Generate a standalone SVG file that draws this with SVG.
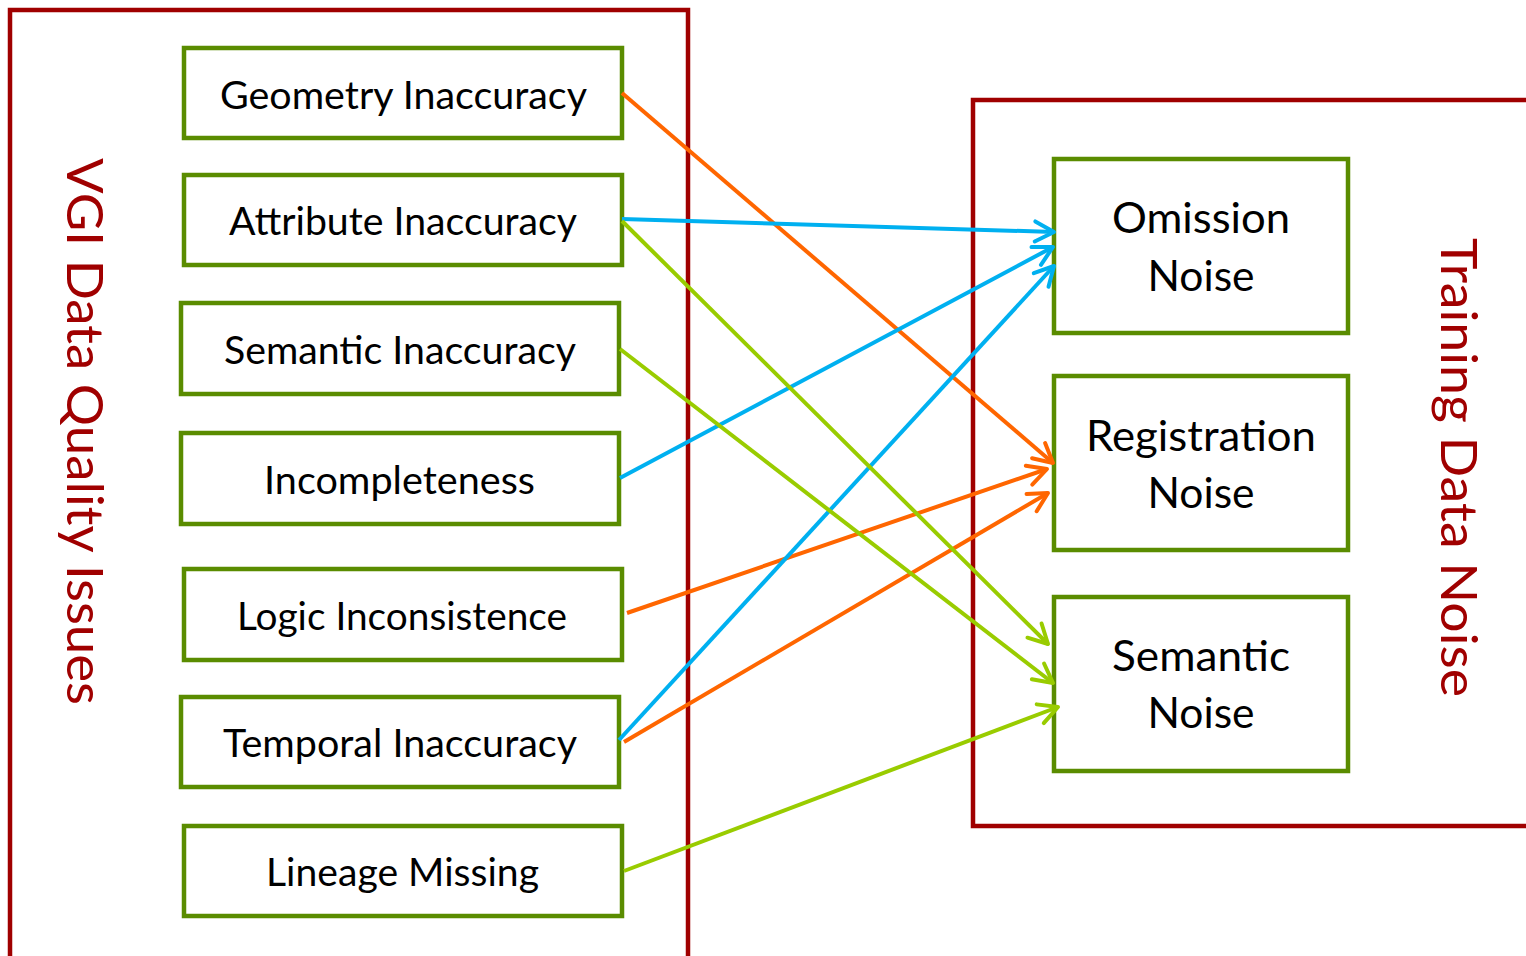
<svg xmlns="http://www.w3.org/2000/svg" width="1526" height="956" viewBox="0 0 1526 956">
  <style>
    .frame { fill: none; stroke: #A00000; stroke-width: 4.5; }
    .node rect { fill: #FFFFFF; stroke: #5A8C00; stroke-width: 4.5; }
    .lbl { font-family: Lato, "Open Sans", "Liberation Sans", sans-serif; font-size: 39px; fill: #000000; text-anchor: middle; }
    .lbl2 { font-family: Lato, "Open Sans", "Liberation Sans", sans-serif; font-size: 42px; fill: #000000; text-anchor: middle; }
    .title { font-family: Lato, "Open Sans", "Liberation Sans", sans-serif; font-size: 50px; fill: #A00000; text-anchor: middle; }
    .c { fill: none; stroke-width: 4; }
    .or { stroke: #FF6600; }
    .bl { stroke: #00B0F0; }
    .gr { stroke: #99CC00; }
    .ah { fill: none; stroke-width: 4; stroke-linecap: round; stroke-linejoin: round; }
  </style>
  <defs>
    <marker id="mOr" markerUnits="userSpaceOnUse" viewBox="-25 -15 30 30" markerWidth="30" markerHeight="30" refX="0" refY="0" orient="auto" overflow="visible">
      <path class="ah" d="M -19 -10 L 0 0 L -19 10" stroke="#FF6600"/>
    </marker>
    <marker id="mBl" markerUnits="userSpaceOnUse" viewBox="-25 -15 30 30" markerWidth="30" markerHeight="30" refX="0" refY="0" orient="auto" overflow="visible">
      <path class="ah" d="M -19 -10 L 0 0 L -19 10" stroke="#00B0F0"/>
    </marker>
    <marker id="mGr" markerUnits="userSpaceOnUse" viewBox="-25 -15 30 30" markerWidth="30" markerHeight="30" refX="0" refY="0" orient="auto" overflow="visible">
      <path class="ah" d="M -19 -10 L 0 0 L -19 10" stroke="#99CC00"/>
    </marker>
  </defs>
  <rect width="1526" height="956" fill="#FFFFFF"/>

  <g id="vgi-frame">
    <rect class="frame" x="10" y="10" width="678" height="970"/>
    <text class="title" transform="translate(67,431.5) rotate(90)" textLength="547" lengthAdjust="spacingAndGlyphs">VGI Data Quality Issues</text>
  </g>
  <g id="noise-frame">
    <rect class="frame" x="973" y="100" width="580" height="726"/>
    <text class="title" transform="translate(1441,467.5) rotate(90)" textLength="459" lengthAdjust="spacingAndGlyphs">Training Data Noise</text>
  </g>

  <g id="geometry-inaccuracy" class="node">
    <rect x="184" y="48" width="438" height="90"/>
    <text class="lbl" x="403.5" y="109" textLength="367" lengthAdjust="spacingAndGlyphs">Geometry Inaccuracy</text>
  </g>
  <g id="attribute-inaccuracy" class="node">
    <rect x="184" y="175" width="438" height="90"/>
    <text class="lbl" x="403" y="235" textLength="348" lengthAdjust="spacingAndGlyphs">Attribute Inaccuracy</text>
  </g>
  <g id="semantic-inaccuracy" class="node">
    <rect x="181" y="303" width="438" height="91"/>
    <text class="lbl" x="400" y="364" textLength="352" lengthAdjust="spacingAndGlyphs">Semantic Inaccuracy</text>
  </g>
  <g id="incompleteness" class="node">
    <rect x="181" y="433" width="438" height="91"/>
    <text class="lbl" x="399.5" y="494" textLength="271" lengthAdjust="spacingAndGlyphs">Incompleteness</text>
  </g>
  <g id="logic-inconsistence" class="node">
    <rect x="184" y="569" width="438" height="91"/>
    <text class="lbl" x="402" y="630" textLength="330" lengthAdjust="spacingAndGlyphs">Logic Inconsistence</text>
  </g>
  <g id="temporal-inaccuracy" class="node">
    <rect x="181" y="697" width="438" height="90"/>
    <text class="lbl" x="400" y="757" textLength="354" lengthAdjust="spacingAndGlyphs">Temporal Inaccuracy</text>
  </g>
  <g id="lineage-missing" class="node">
    <rect x="184" y="826" width="438" height="90"/>
    <text class="lbl" x="402.5" y="886" textLength="273" lengthAdjust="spacingAndGlyphs">Lineage Missing</text>
  </g>

  <g id="omission-noise" class="node">
    <rect x="1054" y="159" width="294" height="174"/>
    <text class="lbl2" x="1201" y="233" textLength="178" lengthAdjust="spacingAndGlyphs">Omission</text>
    <text class="lbl2" x="1201" y="291" textLength="107" lengthAdjust="spacingAndGlyphs">Noise</text>
  </g>
  <g id="registration-noise" class="node">
    <rect x="1054" y="376" width="294" height="174"/>
    <text class="lbl2" x="1201" y="451" textLength="230" lengthAdjust="spacingAndGlyphs">Registration</text>
    <text class="lbl2" x="1201" y="508" textLength="107" lengthAdjust="spacingAndGlyphs">Noise</text>
  </g>
  <g id="semantic-noise" class="node">
    <rect x="1054" y="597" width="294" height="174"/>
    <text class="lbl2" x="1201" y="671" textLength="178" lengthAdjust="spacingAndGlyphs">Semantic</text>
    <text class="lbl2" x="1201" y="728" textLength="107" lengthAdjust="spacingAndGlyphs">Noise</text>
  </g>

  <g id="connectors">
    <line class="c or" x1="622" y1="93" x2="1053" y2="463" marker-end="url(#mOr)"/>
    <line class="c or" x1="627" y1="613" x2="1047" y2="469" marker-end="url(#mOr)"/>
    <line class="c or" x1="624" y1="742" x2="1048" y2="493" marker-end="url(#mOr)"/>
    <line class="c bl" x1="622" y1="219" x2="1054" y2="232" marker-end="url(#mBl)"/>
    <line class="c bl" x1="620" y1="478" x2="1053" y2="247" marker-end="url(#mBl)"/>
    <line class="c bl" x1="619" y1="740" x2="1054" y2="266" marker-end="url(#mBl)"/>
    <line class="c gr" x1="622" y1="221" x2="1048" y2="644" marker-end="url(#mGr)"/>
    <line class="c gr" x1="620" y1="349" x2="1053" y2="683" marker-end="url(#mGr)"/>
    <line class="c gr" x1="624" y1="871" x2="1058" y2="707" marker-end="url(#mGr)"/>
  </g>
</svg>
